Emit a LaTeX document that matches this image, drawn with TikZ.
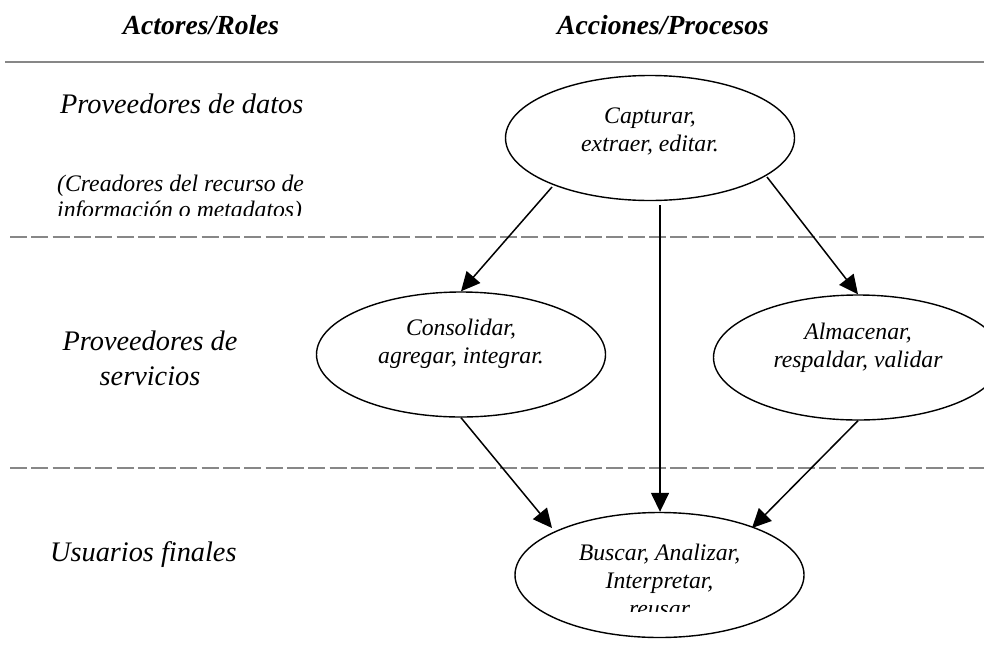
\documentclass[tikz,border=0pt]{standalone}
\usepackage{fontspec}
\setmainfont{Liberation Serif}
\usetikzlibrary{shapes.geometric,arrows.meta}
\begin{document}
\begin{tikzpicture}[x=1pt,y=-1pt,
  proc/.style={draw,ellipse,line width=1.4pt,inner sep=0pt,minimum width=289pt,minimum height=125pt},
  ptext/.style={font=\fontsize{23.7}{28}\selectfont\itshape,align=center,inner sep=0pt},
  role/.style={font=\fontsize{28.3}{35}\selectfont\itshape,align=center,inner sep=0pt},
  note/.style={font=\fontsize{23.7}{27}\selectfont\itshape,anchor=west,inner sep=0pt},
  head/.style={font=\fontsize{27.6}{32}\selectfont\bfseries\itshape,inner sep=0pt,anchor=base},
  sep/.style={draw={rgb,255:red,135;green,135;blue,135},line width=2pt},
  dsep/.style={sep,dash pattern=on 17pt off 4.3pt},
  arr/.style={line width=1.5pt,-{Triangle[length=19pt,width=18pt]}}]
\useasboundingbox (0,0) rectangle (984,656);
\clip (0,0) rectangle (984,656);
\fill[white] (0,0) rectangle (984,656);

% headers
\node[head] (h1) at (201,34) {Actores/Roles};
\node[head] (h2) at (663,34) {Acciones/Procesos};

% separators
\coordinate (s1a) at (5,62);  \coordinate (s1b) at (984,62);
\coordinate (s2a) at (10,237); \coordinate (s2b) at (984,237);
\coordinate (s3a) at (10,468); \coordinate (s3b) at (984,468);
\draw[sep] (s1a) -- (s1b);
\draw[dsep] (s2a) -- (s2b);
\draw[dsep] (s3a) -- (s3b);

% roles
\node[role,anchor=west] (r1) at (60,104) {Proveedores de datos};
\node[note] (r1a) at (57,186) {(Creadores del recurso de};
\begin{scope}
  \clip (0,198) rectangle (400,215);
  \node[note] (r1b) at (57,212) {información o metadatos)};
\end{scope}
\node[role] (r2) at (150,358) {Proveedores de\\servicios};
\node[role,anchor=west] (r3) at (50,555) {Usuarios finales};

% processes
\node[proc] (cap) at (650,138) {};
\node[ptext] (capt) at (650,131) {Capturar,\\extraer, editar.};

\node[proc] (con) at (461,354.5) {};
\node[ptext] (cont) at (461,344) {Consolidar,\\agregar, integrar.};

\node[proc] (alm) at (858,357.5) {};
\node[ptext] (almt) at (858,348) {Almacenar,\\respaldar, validar};

\node[proc] (bus) at (659.5,575) {};
\begin{scope}
  \clip (520,530) rectangle (800,611);
  \node[ptext] (bust) at (659.5,580) {Buscar, Analizar,\\Interpretar,\\reusar};
\end{scope}

% connector ends
\coordinate (c1s) at (552,187);
\coordinate (c2s) at (660,205);
\coordinate (c3s) at (767,177);
\coordinate (c4e) at (552,528);
\coordinate (c5e) at (752,528);

\draw[arr] (c1s) -- (con.north);
\draw[arr] (c2s) -- (bus.north -| c2s);
\draw[arr] (c3s) -- (alm.north);
\draw[arr] (con.south) -- (c4e);
\draw[arr] (alm.south) -- (c5e);
\end{tikzpicture}
\end{document}
